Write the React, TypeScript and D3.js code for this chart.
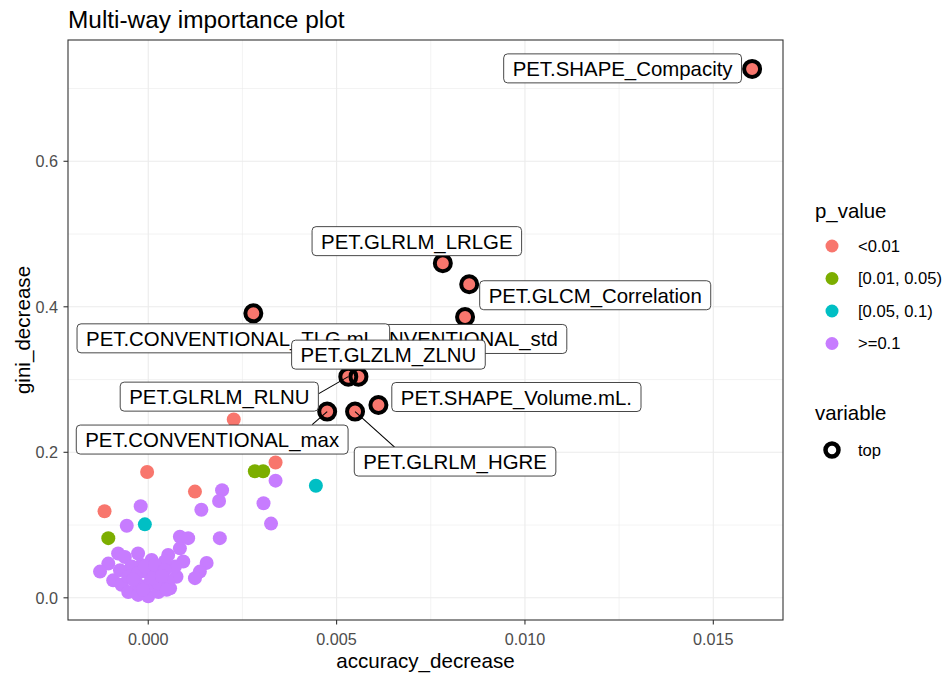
import * as d3 from 'd3';
import React from 'react';
import { useRef, useEffect } from 'react';

const pValueLevels = ['<0.01', '[0.01, 0.05)', '[0.05, 0.1)', '>=0.1'];
const pValueColors = ['#F8766D', '#7CAE00', '#00BFC4', '#C77CFF'];

// the ten labelled ("top") variables, all with p_value < 0.01
const topVariables = [
  'PET.SHAPE_Compacity',
  'PET.GLRLM_LRLGE',
  'PET.GLCM_Correlation',
  'PET.CONVENTIONAL_std',
  'PET.CONVENTIONAL_TLG.mL.',
  'PET.GLZLM_ZLNU',
  'PET.GLRLM_RLNU',
  'PET.SHAPE_Volume.mL.',
  'PET.CONVENTIONAL_max',
  'PET.GLRLM_HGRE',
];
const topAccuracy = [0.01603, 0.00782, 0.00852, 0.00841, 0.00279, 0.00558, 0.00531, 0.00611, 0.00475, 0.00549];
const topGini = [0.727, 0.46, 0.431, 0.386, 0.391, 0.304, 0.304, 0.265, 0.256, 0.256];

// the remaining variables
const otherAccuracy = [
  0.00227, 0.00338, -0.00003, 0.00124, -0.00116,
  0.00283, 0.00305, -0.00106,
  0.00445, -0.00009,
  0.00338, 0.00196, 0.00188, -0.0002, 0.00141, 0.00306, -0.00057, 0.00326, 0.0019, 0.00084,
  0.00106, 0.00084, 0.00093, 0.00155, 0.00137, 0.00124, 0.00053, -0.00027, -0.0008, -0.00062,
  -0.00106, -0.00128, -0.00093, -0.00071, -0.00053, -0.00027, 0.0, 0.00027, 0.00058, 0.00075,
  0.00071, 0.00044, 0.00009, -0.00018, -0.00044, -0.00075, -0.00053, -0.00027, 0.0, 0.00027,
  -0.00027, 0.0, 0.00027, 0.00053, -0.00009, 0.00018, 0.00044, 0.00049, -0.0004, -0.00014,
  0.00012, 0.00036,
];
const otherGini = [
  0.245, 0.186, 0.173, 0.146, 0.119,
  0.174, 0.174, 0.082,
  0.154, 0.101,
  0.161, 0.148, 0.133, 0.126, 0.121, 0.13, 0.099, 0.102, 0.082, 0.084,
  0.082, 0.068, 0.05, 0.048, 0.036, 0.027, 0.059, 0.061, 0.061, 0.056,
  0.047, 0.036, 0.024, 0.018, 0.008, 0.004, 0.002, 0.008, 0.013, 0.029,
  0.043, 0.05, 0.052, 0.045, 0.043, 0.038, 0.029, 0.034, 0.034, 0.034,
  0.018, 0.018, 0.02, 0.022, 0.043, 0.045, 0.038, 0.011, 0.025, 0.011,
  0.027, 0.03,
];
const otherPValue = [
  ...Array(5).fill('<0.01'),
  ...Array(3).fill('[0.01, 0.05)'),
  ...Array(2).fill('[0.05, 0.1)'),
  ...Array(52).fill('>=0.1'),
];

const xTicks = [0, 0.005, 0.01, 0.015];
const yTicks = [0, 0.2, 0.4, 0.6];

// where the repelled labels ended up, in px from their point (box centre),
// plus where the leader segment meets the box (px from box centre)
const labelNudge: [number, number][] = [
  [-129.5, -0.5], [-26, -22], [126, 11], [-28.5, 22], [-20, 25],
  [30, -22], [-129, 20], [138, -8], [-115, 28], [100, 50],
];
const segmentEnd: ([number, number] | null)[] = [
  null, null, null, null, null, null, [99.5, -3], null, [100, -15], [-60.5, -14.5],
];

const FONT = '"Liberation Sans", Arial, sans-serif';

export default function App() {
  const svgRef = useRef<SVGSVGElement | null>(null);

  useEffect(() => {
    if (!svgRef.current) return;
    const svg = d3.select(svgRef.current);
    svg.selectAll('*').remove();

    const left = 68, right = 783, top = 40, bottom = 620;
    const x = d3.scaleLinear().domain([-0.00213, 0.01685]).range([left, right]);
    const y = d3.scaleLinear().domain([-0.0305, 0.7667]).range([bottom, top]);
    const color = d3.scaleOrdinal<string, string>().domain(pValueLevels).range(pValueColors);

    svg.append('rect').attr('width', 944).attr('height', 675).attr('fill', '#fff');

    // grid
    const grid = svg.append('g');
    const xMinor = [0.0025, 0.0075, 0.0125];
    const yMinor = [0.1, 0.3, 0.5, 0.7];
    grid.selectAll('.xm').data(xMinor).join('line')
      .attr('x1', d => x(d)).attr('x2', d => x(d)).attr('y1', top).attr('y2', bottom)
      .attr('stroke', '#EBEBEB').attr('stroke-width', 0.6);
    grid.selectAll('.ym').data(yMinor).join('line')
      .attr('y1', d => y(d)).attr('y2', d => y(d)).attr('x1', left).attr('x2', right)
      .attr('stroke', '#EBEBEB').attr('stroke-width', 0.6);
    grid.selectAll('.xM').data(xTicks).join('line')
      .attr('x1', d => x(d)).attr('x2', d => x(d)).attr('y1', top).attr('y2', bottom)
      .attr('stroke', '#EBEBEB').attr('stroke-width', 1.1);
    grid.selectAll('.yM').data(yTicks).join('line')
      .attr('y1', d => y(d)).attr('y2', d => y(d)).attr('x1', left).attr('x2', right)
      .attr('stroke', '#EBEBEB').attr('stroke-width', 1.1);

    // points
    const others = otherAccuracy.map((a, i) => ({ a, g: otherGini[i], p: otherPValue[i] }));
    svg.append('g').selectAll('circle').data(others).join('circle')
      .attr('cx', d => x(d.a)).attr('cy', d => y(d.g)).attr('r', 7)
      .attr('fill', d => color(d.p));

    const tops = topVariables.map((name, i) => ({
      name, a: topAccuracy[i], g: topGini[i], nudge: labelNudge[i], seg: segmentEnd[i],
    }));
    svg.append('g').selectAll('circle').data(tops).join('circle')
      .attr('cx', d => x(d.a)).attr('cy', d => y(d.g)).attr('r', 7)
      .attr('fill', color('<0.01'));
    svg.append('g').selectAll('circle').data(tops).join('circle')
      .attr('cx', d => x(d.a)).attr('cy', d => y(d.g)).attr('r', 8)
      .attr('fill', 'none').attr('stroke', '#000').attr('stroke-width', 4);

    // repelled labels
    const labels = svg.append('g');
    tops.forEach(d => {
      const cx = x(d.a) + d.nudge[0];
      const cy = y(d.g) + d.nudge[1];
      const g = labels.append('g');
      if (d.seg) {
        g.append('line')
          .attr('x1', x(d.a)).attr('y1', y(d.g))
          .attr('x2', cx + d.seg[0]).attr('y2', cy + d.seg[1])
          .attr('stroke', '#000').attr('stroke-width', 1.1);
      }
      const rect = g.append('rect');
      const text = g.append('text')
        .attr('x', cx).attr('y', cy + 7.5)
        .attr('text-anchor', 'middle')
        .attr('font-family', FONT).attr('font-size', 20.4)
        .attr('fill', '#000')
        .text(d.name);
      const w = (text.node() as SVGTextElement).getComputedTextLength() + 18;
      rect.attr('x', cx - w / 2).attr('y', cy - 14.5)
        .attr('width', w).attr('height', 29).attr('rx', 4)
        .attr('fill', '#fff').attr('stroke', '#333').attr('stroke-width', 0.9);
    });

    // panel border
    svg.append('rect').attr('x', left).attr('y', top)
      .attr('width', right - left).attr('height', bottom - top)
      .attr('fill', 'none').attr('stroke', '#333').attr('stroke-width', 1.1);

    // axes
    const xAxis = svg.append('g');
    xAxis.selectAll('line').data(xTicks).join('line')
      .attr('x1', d => x(d)).attr('x2', d => x(d)).attr('y1', bottom).attr('y2', bottom + 4.5)
      .attr('stroke', '#333').attr('stroke-width', 1.1);
    xAxis.selectAll('text').data(xTicks).join('text')
      .attr('x', d => x(d)).attr('y', 645)
      .attr('text-anchor', 'middle')
      .attr('font-family', FONT).attr('font-size', 16.2).attr('fill', '#4D4D4D')
      .text(d => d3.format('.3f')(d));

    const yAxis = svg.append('g');
    yAxis.selectAll('line').data(yTicks).join('line')
      .attr('y1', d => y(d)).attr('y2', d => y(d)).attr('x1', left - 4.5).attr('x2', left)
      .attr('stroke', '#333').attr('stroke-width', 1.1);
    yAxis.selectAll('text').data(yTicks).join('text')
      .attr('x', 58).attr('y', d => y(d) + 5.8)
      .attr('text-anchor', 'end')
      .attr('font-family', FONT).attr('font-size', 16.2).attr('fill', '#4D4D4D')
      .text(d => d3.format('.1f')(d));

    svg.append('text')
      .attr('x', (left + right) / 2).attr('y', 668)
      .attr('text-anchor', 'middle')
      .attr('font-family', FONT).attr('font-size', 20.6).attr('fill', '#000')
      .text('accuracy_decrease');
    svg.append('text')
      .attr('transform', `translate(30, ${(top + bottom) / 2}) rotate(-90)`)
      .attr('text-anchor', 'middle')
      .attr('font-family', FONT).attr('font-size', 20.6).attr('fill', '#000')
      .text('gini_decrease');

    svg.append('text')
      .attr('x', 68).attr('y', 28)
      .attr('font-family', FONT).attr('font-size', 24.4).attr('fill', '#000')
      .text('Multi-way importance plot');

    // legends
    const legend = svg.append('g');
    legend.append('text').attr('x', 815).attr('y', 218)
      .attr('font-family', FONT).attr('font-size', 20.4).attr('fill', '#000')
      .text('p_value');
    const items = legend.selectAll('.item').data(pValueLevels).join('g')
      .attr('transform', (_, i) => `translate(0, ${246 + i * 32.5})`);
    items.append('circle').attr('cx', 832).attr('cy', 0).attr('r', 6.5)
      .attr('fill', d => color(d));
    items.append('text').attr('x', 858).attr('y', 5.8)
      .attr('font-family', FONT).attr('font-size', 16.6).attr('fill', '#000')
      .text(d => d);

    legend.append('text').attr('x', 815).attr('y', 420)
      .attr('font-family', FONT).attr('font-size', 20.4).attr('fill', '#000')
      .text('variable');
    legend.append('circle').attr('cx', 832).attr('cy', 450).attr('r', 6.5)
      .attr('fill', 'none').attr('stroke', '#000').attr('stroke-width', 4.5);
    legend.append('text').attr('x', 858).attr('y', 455.8)
      .attr('font-family', FONT).attr('font-size', 16.6).attr('fill', '#000')
      .text('top');
  }, []);

  return (
    <svg
      ref={svgRef}
      width={944}
      height={675}
      style={{ position: 'absolute', left: 0, top: 0, display: 'block' }}
    />
  );
}
